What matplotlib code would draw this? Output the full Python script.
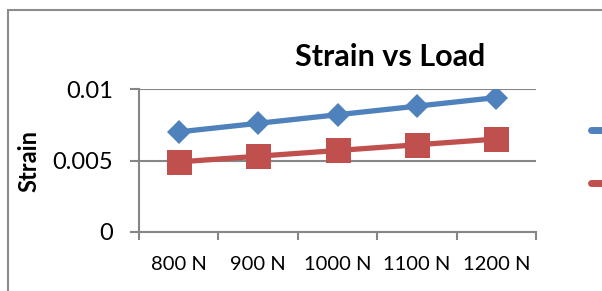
import matplotlib
matplotlib.use("Agg")
from matplotlib import pyplot as plt
from matplotlib.lines import Line2D
from matplotlib.patches import Rectangle

plt.rcParams['font.family'] = ['Lato', 'DejaVu Sans']

loads = ['800 N', '900 N', '1000 N', '1100 N', '1200 N']
strain_a = [0.0070, 0.0076, 0.0082, 0.0088, 0.0094]
strain_b = [0.0049, 0.0053, 0.0057, 0.0061, 0.0065]
yticks = [0, 0.005, 0.01]
ytick_labels = ['0', '0.005', '0.01']

blue = '#4F81BD'
red = '#C0504D'
grey = '#868686'

W, H = 602, 291
fig = plt.figure(figsize=(W / 100, H / 100), dpi=100)

# chart area frame (cut off on the right and bottom)
fig.patches.append(Rectangle((8 / W, -0.2), 1.2, 1 - 10 / H + 0.2,
                             transform=fig.transFigure, fill=False,
                             edgecolor='#8c8c8c', lw=1.5))

ax = fig.add_axes([139 / W, 1 - 232 / H, (536 - 139) / W, (232 - 89) / H])
x = list(range(len(loads)))
ax.plot(x, strain_a, color=blue, lw=3.8, marker='D', ms=12.5,
        markeredgewidth=0, zorder=3)
ax.plot(x, strain_b, color=red, lw=3.8, marker='s', ms=18,
        markeredgewidth=0, zorder=3)

ax.set_ylim(0, 0.01)
ax.set_xlim(-0.5, len(loads) - 0.5)
ax.set_yticks(yticks)
ax.set_yticklabels(ytick_labels)
ax.set_xticks(x)
ax.set_xticklabels(loads)
ax.set_xticks([i - 0.5 for i in range(len(loads) + 1)], minor=True)
ax.tick_params(axis='x', which='major', length=0, pad=17, labelsize=14.5)
ax.tick_params(axis='x', which='minor', length=6, width=1.5, color=grey)
ax.tick_params(axis='y', length=6.5, width=1.5, color=grey, pad=12,
               labelsize=17)
ax.grid(axis='y', color=grey, lw=1.5, zorder=0)
for s in ['top', 'right']:
    ax.spines[s].set_visible(False)
for s in ['left', 'bottom']:
    ax.spines[s].set_color(grey)
    ax.spines[s].set_linewidth(1.5)
ax.set_axisbelow(True)

fig.text(390 / W, 1 - 57 / H, 'Strain vs Load', ha='center', va='center',
         fontsize=22, fontweight='bold')
fig.text(29 / W, 1 - 161 / H, 'Strain', ha='center', va='center',
         rotation=90, fontsize=17, fontweight='bold')

# legend keys, the rest of the legend lies outside the picture
for col, yy in [(blue, 130), (red, 183)]:
    fig.add_artist(Line2D([591 / W, 1.1], [1 - yy / H] * 2, color=col,
                          lw=5, solid_capstyle='round'))

fig.savefig('out.png', dpi=100)
